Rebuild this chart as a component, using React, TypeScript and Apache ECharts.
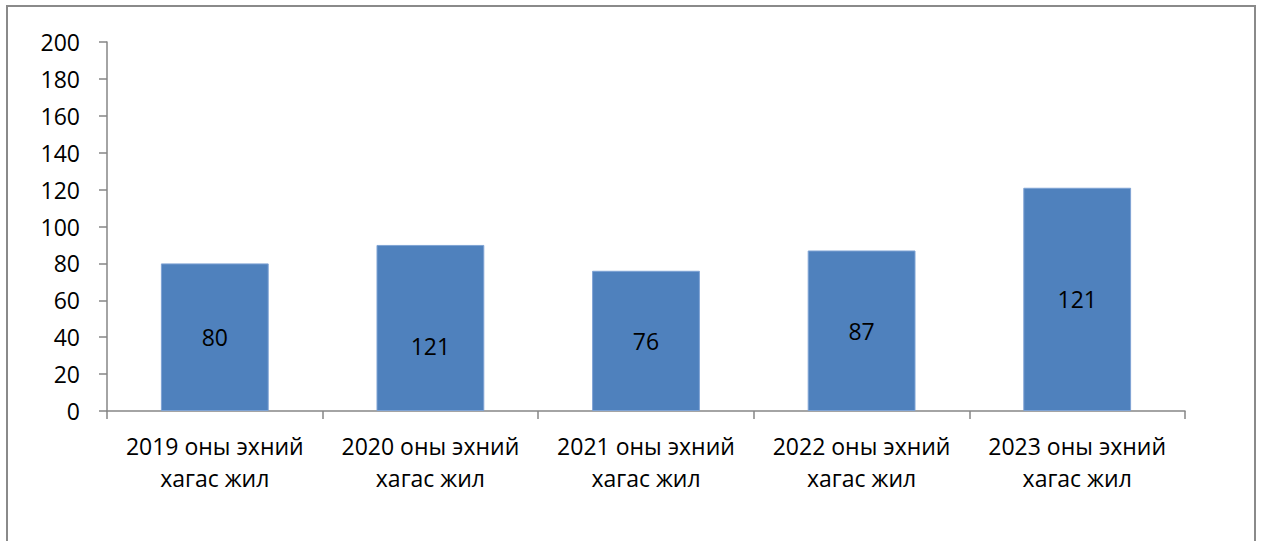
import React, { useEffect, useRef } from "react";
import * as echarts from "echarts";

const categories = [
  "2019 оны эхний\nхагас жил",
  "2020 оны эхний\nхагас жил",
  "2021 оны эхний\nхагас жил",
  "2022 оны эхний\nхагас жил",
  "2023 оны эхний\nхагас жил",
];
const values = [80, 90, 76, 87, 121];
const labels = ["80", "121", "76", "87", "121"];
const labelOffsets = [0, 18, 0, 0, 0];

const FONT = "'Open Sans', sans-serif";
const FS = 23;

export default function App() {
  const ref = useRef<HTMLDivElement>(null);
  useEffect(() => {
    if (!ref.current) return;
    const chart = echarts.init(ref.current, null, { renderer: "svg" });
    chart.setOption({
      animation: false,
      backgroundColor: "#ffffff",
      textStyle: { fontFamily: FONT },
      graphic: [
        {
          type: "rect",
          shape: { x: 7, y: 6, width: 1248, height: 600 },
          style: { fill: "none", stroke: "#8a8a8a", lineWidth: 2 },
          silent: true,
        },
      ],
      grid: { left: 107, right: 78, top: 42, bottom: 130, containLabel: false },
      xAxis: {
        type: "category",
        data: categories,
        boundaryGap: true,
        axisLine: { show: true, lineStyle: { color: "#868686", width: 1.5 } },
        axisTick: { show: true, alignWithLabel: false, length: 8, lineStyle: { color: "#868686", width: 1.5 } },
        axisLabel: {
          color: "#000",
          fontSize: FS,
          fontFamily: FONT,
          lineHeight: 32,
          margin: 19,
          interval: 0,
        },
        splitLine: { show: false },
      },
      yAxis: {
        type: "value",
        min: 0,
        max: 200,
        interval: 20,
        axisLine: { show: true, lineStyle: { color: "#868686", width: 1.5 } },
        axisTick: { show: true, length: 8, lineStyle: { color: "#868686", width: 1.5 } },
        axisLabel: { color: "#000", fontSize: FS, fontFamily: FONT, margin: 27 },
        splitLine: { show: false },
      },
      series: [
        {
          type: "bar",
          barWidth: "50%",
          data: values.map((v, i) => ({
            value: v,
            label: {
              show: true,
              position: "inside",
              offset: [0, labelOffsets[i]],
              formatter: () => labels[i],
              color: "#000",
              fontSize: FS,
              fontFamily: FONT,
            },
          })),
          itemStyle: { color: "#4f81bd", borderColor: "#7fa3d4", borderWidth: 1 },
        },
      ],
    });
    return () => chart.dispose();
  }, []);
  return (
    <div
      ref={ref}
      style={{ position: "fixed", left: 0, top: 0, width: 1263, height: 541 }}
    />
  );
}
